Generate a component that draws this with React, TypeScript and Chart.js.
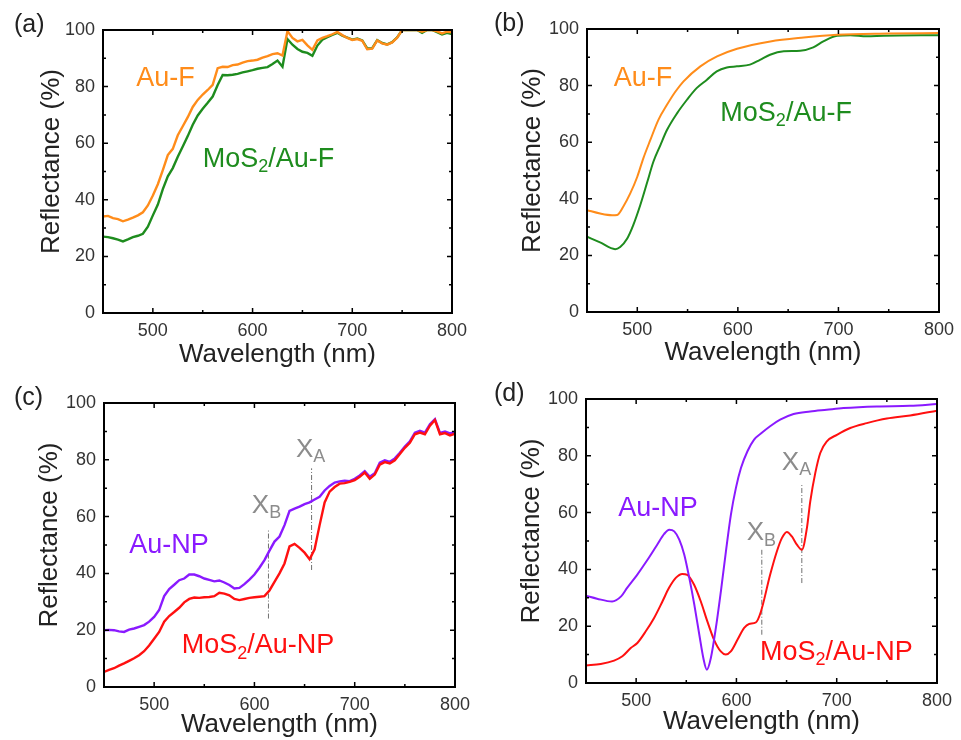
import React, { useEffect, useRef } from 'react';
import { Chart, registerables } from 'chart.js';

Chart.register(...registerables);

const FONT = '"Liberation Sans", Arial, Helvetica, sans-serif';

// ---------- shared axis data ----------
const xTickValues = [500, 600, 700, 800];
const xMinorTicks = [550, 650, 750];
const yTickValues = [0, 20, 40, 60, 80, 100];
const yMinorTicks = [10, 30, 50, 70, 90];
const xTitle = 'Wavelength (nm)';
const yTitle = 'Reflectance (%)';

// ---------- panel (a) ----------
const aWavelength = [450, 455, 460, 465, 470, 475, 480, 485, 490, 495, 500, 505, 510, 515, 520, 525, 530, 535, 540, 545, 550, 555, 560, 565, 570, 575, 580, 585, 590, 595, 600, 605, 610, 615, 620, 625, 630, 635, 640, 645, 650, 655, 660, 665, 670, 675, 680, 685, 690, 695, 700, 705, 710, 715, 720, 725, 730, 735, 740, 745, 750, 755, 760, 765, 770, 775, 780, 785, 790, 795, 800];
const aAuF = [34.1, 34.3, 33.5, 33.2, 32.4, 33.0, 33.7, 34.5, 35.6, 38.0, 41.5, 45.5, 50.5, 55.8, 58.0, 62.8, 66.0, 69.2, 72.8, 75.3, 77.2, 78.8, 80.6, 86.5, 87.0, 86.9, 87.6, 87.8, 88.5, 89.0, 89.2, 89.5, 90.2, 90.8, 91.5, 91.8, 91.0, 99.6, 97.2, 96.0, 96.5, 94.6, 93.0, 96.3, 97.2, 97.8, 98.5, 99.3, 98.2, 97.2, 96.5, 96.8, 96.2, 93.2, 93.4, 96.3, 95.3, 94.8, 95.6, 97.3, 100, 100, 100, 100, 99.4, 100, 100, 99.5, 98.8, 99.4, 99.2];
const aMoS2AuF = [27.0, 26.8, 26.4, 25.9, 25.3, 26.0, 26.8, 27.3, 28.0, 30.5, 34.5, 38.3, 43.8, 48.3, 51.2, 55.2, 58.8, 62.5, 66.5, 69.8, 72.2, 74.3, 76.5, 80.6, 84.1, 84.0, 84.2, 84.5, 85.0, 85.4, 85.8, 86.3, 86.6, 86.9, 88.0, 89.2, 87.0, 96.8, 94.8, 93.3, 92.3, 91.9, 90.9, 94.5, 96.6, 97.5, 98.3, 99.0, 98.0, 97.3, 96.6, 97.0, 96.3, 93.5, 93.6, 96.4, 95.4, 94.9, 95.7, 97.4, 100, 100, 100, 100, 99.0, 100, 100, 99.2, 98.4, 99.0, 98.6];

// ---------- panel (b) ----------
const bAuFWavelength = [450, 463, 475, 480, 486, 493, 500, 506, 513, 521, 529.5, 538, 546, 562.7, 579.3, 599.2, 632.3, 665.4, 698.6, 750, 800];
const bAuF = [36.0, 34.8, 34.2, 34.3, 37.2, 41.9, 47.8, 54.3, 60.8, 67.9, 73.2, 77.9, 81.5, 86.8, 90.3, 93.0, 95.6, 97.0, 98.0, 98.4, 98.6];
const bMoS2Wavelength = [450, 463, 478, 483, 490, 496, 503, 510, 516, 523, 529.5, 539.5, 549.4, 559, 569, 579, 589, 599, 612, 622, 632, 645.6, 662, 675, 685, 698.6, 712, 728, 745, 800];
const bMoS2AuF = [26.6, 24.6, 22.2, 23.0, 26.0, 30.7, 37.8, 46.0, 53.1, 59.0, 64.3, 70.2, 75.0, 79.1, 82.0, 85.0, 86.4, 86.8, 87.4, 89.1, 90.9, 92.1, 92.3, 93.5, 95.6, 97.6, 97.8, 97.4, 97.6, 97.8];

// ---------- panel (c) ----------
const cWavelength = aWavelength;
const cAuNP = [20.0, 20.1, 20.0, 19.6, 19.4, 20.2, 20.6, 21.2, 21.8, 23.0, 24.7, 27.1, 32.0, 34.5, 36.0, 37.6, 38.2, 39.6, 39.6, 39.0, 38.2, 37.7, 37.2, 37.5, 36.8, 35.9, 34.7, 34.9, 36.2, 37.8, 39.6, 42.0, 44.7, 48.0, 51.2, 53.0, 57.0, 62.0, 62.8, 63.5, 64.4, 65.0, 66.0, 67.0, 69.2, 70.8, 72.0, 72.4, 72.6, 72.5, 73.3, 74.5, 76.0, 74.0, 75.3, 79.0, 79.8, 79.3, 80.5, 82.5, 84.7, 86.5, 89.5, 90.2, 89.6, 92.5, 94.3, 89.5, 90.0, 89.3, 89.8];
const cMoS2AuNP = [5.3, 6.0, 6.6, 7.5, 8.3, 9.2, 10.1, 11.2, 12.6, 14.6, 17.0, 19.4, 23.0, 25.0, 26.4, 27.9, 29.8, 31.0, 31.5, 31.4, 31.6, 31.7, 32.0, 33.2, 32.9, 32.3, 31.0, 30.6, 31.0, 31.4, 31.6, 31.8, 32.0, 34.0, 37.0, 40.0, 43.5, 49.5, 50.4, 49.0, 47.3, 45.0, 48.5, 57.0, 65.0, 68.8, 70.4, 71.6, 71.8, 72.2, 72.8, 74.0, 75.5, 73.3, 74.8, 78.3, 79.2, 78.7, 79.8, 82.0, 84.2, 86.0, 89.0, 89.6, 89.0, 92.0, 94.0, 89.0, 89.4, 88.6, 89.2];
const cMarkerNames = ['B', 'A'];
const cMarkerX = [614, 657];
const cMarkerLow = [24.1, 41.2];
const cMarkerHigh = [55.5, 77];
const cMarkerLabelX = [597.4, 641.4];
const cMarkerLabelY = [61.2, 81];

// ---------- panel (d) ----------
const dAuNPWavelength = [450, 461, 476, 485, 491, 501, 511, 521, 528, 533, 538, 543, 548, 553, 558, 563, 567, 570.5, 574.5, 579.5, 584.5, 589.5, 594.5, 599.5, 604.5, 611, 617.6, 625, 633.6, 643.6, 657, 673.5, 690, 706.7, 740, 773, 800];
const dAuNP = [30.7, 29.7, 28.7, 30.5, 33.5, 38.1, 43.2, 48.7, 52.5, 54.0, 53.4, 50.5, 45.2, 37.0, 27.6, 17.0, 8.8, 4.7, 8.8, 19.4, 32.3, 46.3, 59.3, 68.7, 75.7, 81.6, 85.7, 88.0, 90.4, 92.7, 94.7, 95.6, 96.2, 96.8, 97.4, 97.6, 98.2];
const dMoS2Wavelength = [450, 464.7, 478, 486.3, 494.6, 501.2, 509.6, 517.9, 526.2, 532.8, 539.5, 546, 551, 557.8, 564.5, 571, 577.7, 584.4, 589.4, 594.4, 601, 607.7, 612.6, 619.3, 624.3, 633.6, 640.3, 645.3, 650.3, 655.3, 660.3, 665.3, 670.3, 673.6, 678.6, 683.6, 690.2, 700.2, 713.5, 730, 750, 773.3, 800];
const dMoS2AuNP = [6.2, 6.7, 7.9, 9.4, 12.3, 14.1, 18.2, 22.9, 28.7, 33.5, 37.0, 38.4, 38.1, 34.6, 28.7, 21.7, 15.2, 11.1, 10.0, 11.1, 15.2, 19.4, 20.8, 21.3, 25.0, 38.1, 46.3, 51.0, 53.2, 51.6, 48.7, 46.9, 54.6, 63.9, 73.9, 81.0, 85.1, 87.4, 89.8, 91.5, 93.1, 94.2, 95.9];
const dMarkerNames = ['B', 'A'];
const dMarkerX = [625.3, 665.2];
const dMarkerLow = [17, 35.2];
const dMarkerHigh = [46.9, 70.4];
const dMarkerLabelX = [610.3, 645.3];
const dMarkerLabelY = [50.2, 75.1];

// ---------- colours ----------
const ORANGE = '#ff8c1a';
const GREEN = '#1e8c1e';
const PURPLE = '#8a1aff';
const RED = '#ff1010';
const GREY = '#8c8c8c';

type Part = { t: string; sub?: boolean };
type TextLabel = { parts: Part[]; x: number; y: number; color: string; size: number };

type PanelSpec = {
  key: string;
  left: number;
  top: number;
  w: number;
  h: number;
  plot: { left: number; right: number; top: number; bottom: number };
  datasets: any[];
  texts: TextLabel[];
  panelLabel: string;
  yTitleDx: number;
  xTitleDy: number;
};

const pts = (xs: number[], ys: number[]) => xs.map((x, i) => ({ x, y: ys[i] }));

const markerSets = (names: string[], xs: number[], lo: number[], hi: number[]) =>
  names.map((n, i) => ({
    label: 'X' + n,
    data: [{ x: xs[i], y: lo[i] }, { x: xs[i], y: hi[i] }],
    borderColor: '#707070',
    borderWidth: 1,
    borderDash: [5, 2, 1, 2],
    pointRadius: 0,
    order: 5,
  }));

const markerTexts = (names: string[], xs: number[], ys: number[]): TextLabel[] =>
  names.map((n, i) => ({ parts: [{ t: 'X' }, { t: n, sub: true }], x: xs[i], y: ys[i], color: GREY, size: 26 }));

const line = (label: string, data: any[], color: string, smooth: boolean, order: number) => ({
  label,
  data,
  borderColor: color,
  backgroundColor: color,
  borderWidth: smooth ? 2 : 2.4,
  pointRadius: 0,
  tension: smooth ? 0.4 : 0,
  cubicInterpolationMode: smooth ? 'monotone' : 'default',
  order,
});

const panels: PanelSpec[] = [
  {
    key: 'a', left: 0, top: 0, w: 480, h: 370,
    plot: { left: 103, right: 452, top: 30, bottom: 313 },
    datasets: [
      line('Au-F', pts(aWavelength, aAuF), ORANGE, false, 0),
      line('MoS2/Au-F', pts(aWavelength, aMoS2AuF), GREEN, false, 1),
    ],
    texts: [
      { parts: [{ t: 'Au-F' }], x: 483.3, y: 80.2, color: ORANGE, size: 27 },
      { parts: [{ t: 'MoS' }, { t: '2', sub: true }, { t: '/Au-F' }], x: 550, y: 51.7, color: GREEN, size: 27 },
    ],
    panelLabel: '(a)', yTitleDx: -51, xTitleDy: 49,
  },
  {
    key: 'b', left: 480, top: 0, w: 481, h: 370,
    plot: { left: 107, right: 459, top: 29, bottom: 312 },
    datasets: [
      line('Au-F', pts(bAuFWavelength, bAuF), ORANGE, true, 0),
      line('MoS2/Au-F', pts(bMoS2Wavelength, bMoS2AuF), GREEN, true, 1),
    ],
    texts: [
      { parts: [{ t: 'Au-F' }], x: 476.5, y: 79.9, color: ORANGE, size: 27 },
      { parts: [{ t: 'MoS' }, { t: '2', sub: true }, { t: '/Au-F' }], x: 582.6, y: 67.6, color: GREEN, size: 27 },
    ],
    panelLabel: '(b)', yTitleDx: -54, xTitleDy: 48,
  },
  {
    key: 'c', left: 0, top: 370, w: 480, h: 370,
    plot: { left: 104, right: 455, top: 33, bottom: 317 },
    datasets: [
      line('MoS2/Au-NP', pts(cWavelength, cMoS2AuNP), RED, false, 0),
      line('Au-NP', pts(cWavelength, cAuNP), PURPLE, false, 1),
      ...markerSets(cMarkerNames, cMarkerX, cMarkerLow, cMarkerHigh),
    ],
    texts: [
      { parts: [{ t: 'Au-NP' }], x: 475.2, y: 47.1, color: PURPLE, size: 27 },
      { parts: [{ t: 'MoS' }, { t: '2', sub: true }, { t: '/Au-NP' }], x: 527.5, y: 11.8, color: RED, size: 27 },
      ...markerTexts(cMarkerNames, cMarkerLabelX, cMarkerLabelY),
    ],
    panelLabel: '(c)', yTitleDx: -54, xTitleDy: 45,
  },
  {
    key: 'd', left: 480, top: 370, w: 481, h: 370,
    plot: { left: 106, right: 457, top: 29, bottom: 313 },
    datasets: [
      line('Au-NP', pts(dAuNPWavelength, dAuNP), PURPLE, true, 0),
      line('MoS2/Au-NP', pts(dMoS2Wavelength, dMoS2AuNP), RED, true, 1),
      ...markerSets(dMarkerNames, dMarkerX, dMarkerLow, dMarkerHigh),
    ],
    texts: [
      { parts: [{ t: 'Au-NP' }], x: 482.2, y: 58.7, color: PURPLE, size: 27 },
      { parts: [{ t: 'MoS' }, { t: '2', sub: true }, { t: '/Au-NP' }], x: 623.6, y: 8.2, color: RED, size: 27 },
      ...markerTexts(dMarkerNames, dMarkerLabelX, dMarkerLabelY),
    ],
    panelLabel: '(d)', yTitleDx: -54, xTitleDy: 46,
  },
];

function drawParts(ctx: CanvasRenderingContext2D, parts: Part[], x: number, y: number, size: number, color: string) {
  let cx = x;
  ctx.fillStyle = color;
  ctx.textAlign = 'left';
  ctx.textBaseline = 'alphabetic';
  for (const p of parts) {
    const fs = p.sub ? Math.round(size * 0.68) : size;
    ctx.font = `${fs}px ${FONT}`;
    ctx.fillText(p.t, cx, p.sub ? y + size * 0.2 : y);
    cx += ctx.measureText(p.t).width;
  }
}

const YW = 60;
const XH = 50;

function Panel({ spec }: { spec: PanelSpec }) {
  const ref = useRef<HTMLCanvasElement | null>(null);
  useEffect(() => {
    if (!ref.current) return;
    const { plot, w, h } = spec;
    const decor = {
      id: 'decor',
      afterDraw(chart: any) {
        const ctx: CanvasRenderingContext2D = chart.ctx;
        const xs = chart.scales.x;
        const ys = chart.scales.y;
        const a = chart.chartArea;
        ctx.save();
        // frame
        ctx.strokeStyle = '#000';
        ctx.lineWidth = 2;
        ctx.strokeRect(a.left, a.top, a.right - a.left, a.bottom - a.top);
        // inward ticks on all sides
        ctx.lineWidth = 1.5;
        const tickX = (v: number, len: number) => {
          const px = xs.getPixelForValue(v);
          ctx.beginPath();
          ctx.moveTo(px, a.bottom); ctx.lineTo(px, a.bottom - len);
          ctx.moveTo(px, a.top); ctx.lineTo(px, a.top + len);
          ctx.stroke();
        };
        const tickY = (v: number, len: number) => {
          const py = ys.getPixelForValue(v);
          ctx.beginPath();
          ctx.moveTo(a.left, py); ctx.lineTo(a.left + len, py);
          ctx.moveTo(a.right, py); ctx.lineTo(a.right - len, py);
          ctx.stroke();
        };
        xTickValues.forEach((v) => tickX(v, 5));
        xMinorTicks.forEach((v) => tickX(v, 3));
        yTickValues.forEach((v) => tickY(v, 5));
        yMinorTicks.forEach((v) => tickY(v, 3));
        // annotation texts
        spec.texts.forEach((t) => {
          drawParts(ctx, t.parts, xs.getPixelForValue(t.x), ys.getPixelForValue(t.y), t.size, t.color);
        });
        // axis titles
        ctx.fillStyle = '#222';
        ctx.font = `26px ${FONT}`;
        ctx.textAlign = 'center';
        ctx.textBaseline = 'alphabetic';
        ctx.fillText(xTitle, (a.left + a.right) / 2, a.bottom + spec.xTitleDy);
        ctx.save();
        ctx.translate(a.left + spec.yTitleDx, (a.top + a.bottom) / 2 - 10);
        ctx.rotate(-Math.PI / 2);
        ctx.textBaseline = 'middle';
        ctx.fillText(yTitle, 0, 0);
        ctx.restore();
        // panel label
        ctx.font = `25px ${FONT}`;
        ctx.textAlign = 'left';
        ctx.fillStyle = '#222';
        ctx.fillText(spec.panelLabel, 14, a.top + 2);
        ctx.restore();
      },
    };
    const fitAxis = (size: number, horizontal: boolean) => (s: any) => {
      if (horizontal) s.height = size; else s.width = size;
      s.paddingLeft = 0; s.paddingRight = 0; s.paddingTop = 0; s.paddingBottom = 0;
    };
    const chart = new Chart(ref.current, {
      type: 'line',
      data: { datasets: spec.datasets },
      options: {
        animation: false,
        responsive: false,
        maintainAspectRatio: false,
        layout: {
          autoPadding: false,
          padding: { left: plot.left - YW, right: w - plot.right, top: plot.top, bottom: h - plot.bottom - XH },
        },
        plugins: { legend: { display: false }, tooltip: { enabled: false } },
        scales: {
          x: {
            type: 'linear', min: 450, max: 800,
            afterBuildTicks: (s: any) => { s.ticks = xTickValues.map((v) => ({ value: v })); },
            afterFit: fitAxis(XH, true),
            grid: { display: false, drawTicks: false },
            border: { display: false },
            ticks: { font: { family: FONT, size: 18 }, color: '#333', padding: 7, maxRotation: 0, autoSkip: false },
          },
          y: {
            type: 'linear', min: 0, max: 100,
            afterBuildTicks: (s: any) => { s.ticks = yTickValues.map((v) => ({ value: v })); },
            afterFit: fitAxis(YW, false),
            grid: { display: false, drawTicks: false },
            border: { display: false },
            ticks: { font: { family: FONT, size: 18 }, color: '#333', padding: 8, autoSkip: false },
          },
        },
      } as any,
      plugins: [decor],
    });
    return () => chart.destroy();
  }, [spec]);
  return (
    <canvas
      ref={ref}
      width={spec.w}
      height={spec.h}
      style={{ position: 'absolute', left: spec.left, top: spec.top, width: spec.w, height: spec.h }}
    />
  );
}

export default function App() {
  return (
    <div style={{ position: 'absolute', left: 0, top: 0, width: 961, height: 740, background: '#fff' }}>
      {panels.map((p) => (
        <Panel key={p.key} spec={p} />
      ))}
    </div>
  );
}
